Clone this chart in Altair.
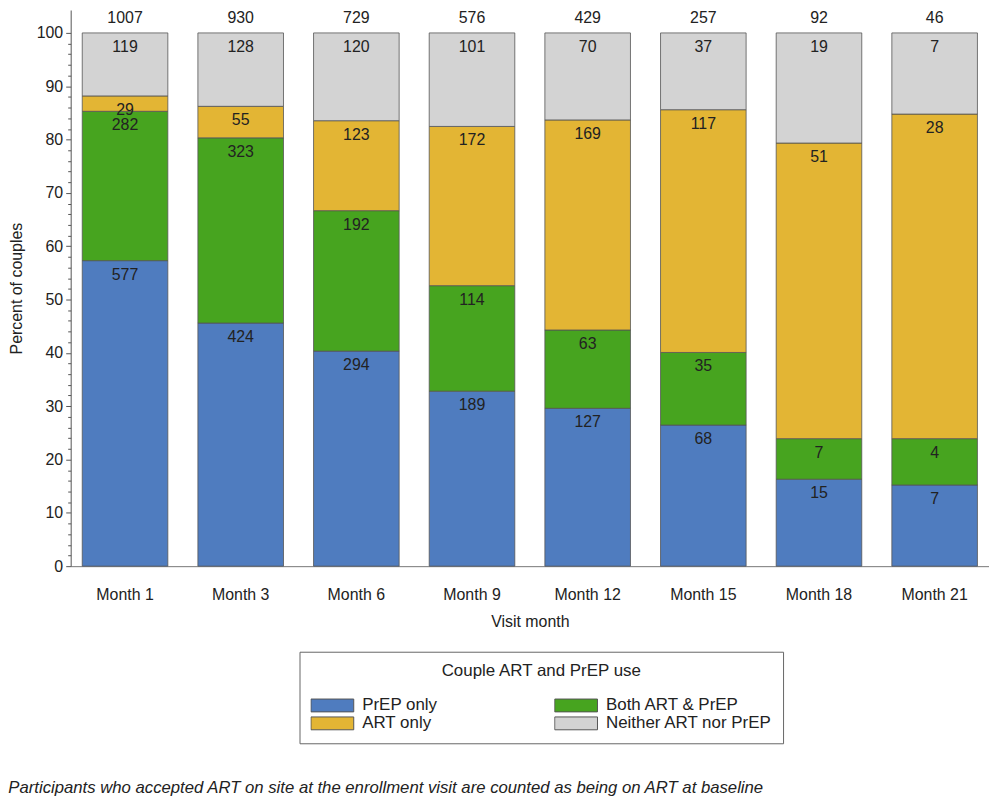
import altair as alt
import pandas as pd

months = ["Month 1", "Month 3", "Month 6", "Month 9", "Month 12", "Month 15", "Month 18", "Month 21"]
categories = ["PrEP only", "Both ART & PrEP", "ART only", "Neither ART nor PrEP"]
prep_only = [577, 424, 294, 189, 127, 68, 15, 7]
both_art_prep = [282, 323, 192, 114, 63, 35, 7, 4]
art_only = [29, 55, 123, 172, 169, 117, 51, 28]
neither = [119, 128, 120, 101, 70, 37, 19, 7]
totals = [1007, 930, 729, 576, 429, 257, 92, 46]
colors = ["#4f7cbf", "#47a41f", "#e3b534", "#d3d3d3"]
footnote = "Participants who accepted ART on site at the enrollment visit are counted as being on ART at baseline"

rows = []
for rank, (cat, vals) in enumerate(zip(categories, [prep_only, both_art_prep, art_only, neither])):
    for m, v in zip(months, vals):
        rows.append({"month": m, "category": cat, "count": v, "rank": rank})
df = pd.DataFrame(rows)
tot_df = pd.DataFrame({"month": months, "total": totals})

FONT = "Liberation Sans"
FS = 16

x_enc = alt.X(
    "month:N",
    sort=months,
    scale=alt.Scale(paddingInner=0.26, paddingOuter=0.1),
    axis=alt.Axis(labelAngle=0, ticks=False, labelPadding=20, titlePadding=12,
                  domainColor="#777", labelBaseline="top"),
    title="Visit month",
)
yscale = alt.Scale(domain=[0, 104.3], nice=False, zero=True)

base = (
    alt.Chart(df)
    .transform_joinaggregate(sum_count="sum(count)", groupby=["month"])
    .transform_calculate(pct="100 * datum.count / datum.sum_count")
    .transform_stack(stack="pct", as_=["y0", "y1"], groupby=["month"],
                     sort=[alt.SortField("rank", order="ascending")])
)

bars = base.mark_bar(stroke="#555", strokeWidth=0.8).encode(
    x=x_enc,
    y=alt.Y("y1:Q", scale=yscale,
            axis=alt.Axis(values=list(range(0, 101, 10)), orient="left", grid=False,
                          tickSize=5, tickColor="#555", domainColor="#555",
                          labelPadding=3, titlePadding=12),
            title="Percent of couples"),
    y2="y0:Q",
    color=alt.Color(
        "category:N",
        scale=alt.Scale(domain=categories, range=colors),
        legend=alt.Legend(
            title="Couple ART and PrEP use",
            orient="none", legendX=230, legendY=645,
            columns=2, direction="horizontal",
            symbolType="M-1,-0.3H1V0.3H-1Z", symbolSize=1849, clipHeight=18,
            symbolStrokeColor="#555", symbolStrokeWidth=1, symbolOpacity=1,
            columnPadding=117, rowPadding=0, labelOffset=8, labelLimit=300,
            titleLimit=400,
            labelFontSize=17, titleFontSize=17, titleFontWeight="normal",
            titleAnchor="middle", titlePadding=17, padding=11,
            strokeColor="#666", labelFont=FONT, titleFont=FONT,
            labelColor="#222", titleColor="#222",
        ),
    ),
)

labels = base.mark_text(baseline="top", dy=6, fontSize=FS, font=FONT, color="#222").encode(
    x=x_enc,
    y=alt.Y("y1:Q", scale=yscale, axis=None),
    text="count:Q",
)

tots = alt.Chart(tot_df).mark_text(baseline="bottom", dy=-7, fontSize=FS, font=FONT, color="#222").encode(
    x=x_enc,
    y=alt.Y(datum=100, type="quantitative", scale=yscale,
            axis=alt.Axis(values=[v for v in range(0, 101, 2) if v % 10], orient="left",
                          labels=False, tickSize=3, tickColor="#555", domain=False,
                          grid=False, title=None)),
    text="total:Q",
)

chart = (
    alt.layer(bars, labels, tots)
    .resolve_axis(y="independent")
    .properties(
        width=923, height=559,
        padding={"left": 0, "top": 0, "right": 0, "bottom": 0},
        title=alt.TitleParams(text=footnote, orient="bottom", anchor="start", frame="bounds",
                              fontStyle="italic", fontWeight="normal", fontSize=16.8,
                              font=FONT, color="#222", offset=36),
    )
    .configure_axis(labelFont=FONT, titleFont=FONT, labelFontSize=FS, titleFontSize=FS,
                    titleFontWeight="normal", labelColor="#222", titleColor="#222")
    .configure_view(stroke=None)
)

chart.save("out.html", embed_options={"renderer": "svg", "actions": False})
